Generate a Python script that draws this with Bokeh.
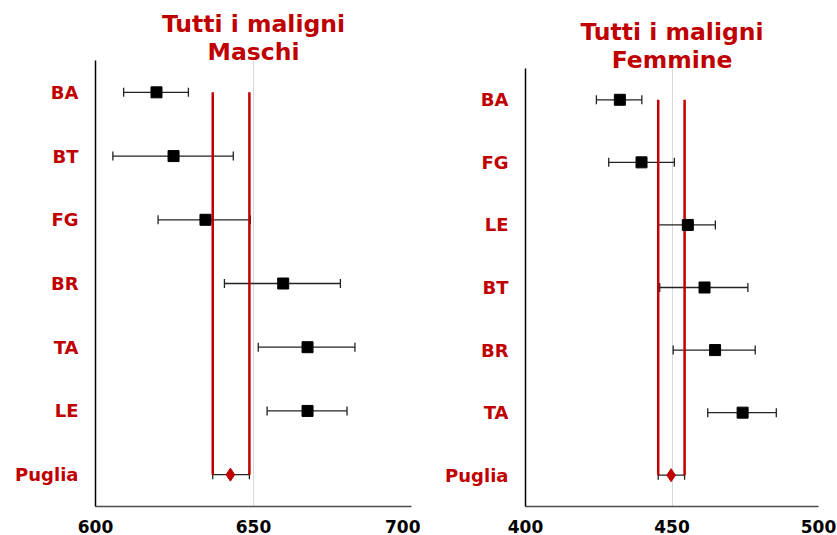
from bokeh.plotting import figure
from bokeh.layouts import row, column, Spacer
from bokeh.models import (ColumnDataSource, FactorRange, Range1d, FixedTicker,
                          Whisker, TeeHead, Title)
from bokeh.embed import file_html
from bokeh.resources import INLINE

# Tutti i maligni - Maschi
m_areas = ["BA", "BT", "FG", "BR", "TA", "LE", "Puglia"]
m_rate = [619.3, 624.7, 634.8, 659.4, 667.1, 667.1, 642.7]
m_low = [608.9, 605.5, 619.8, 640.8, 651.5, 654.3, 637.1]
m_high = [629.4, 643.6, 649.0, 677.5, 682.1, 679.6, 648.7]
m_ticks = [600, 650, 700]

# Tutti i maligni - Femmine
f_areas = ["BA", "FG", "LE", "BT", "BR", "TA", "Puglia"]
f_rate = [432.2, 439.6, 455.4, 461.1, 464.7, 474.1, 449.7]
f_low = [424.2, 428.4, 445.3, 445.8, 450.4, 462.2, 445.3]
f_high = [439.7, 450.8, 464.8, 475.9, 478.4, 485.6, 454.3]
f_ticks = [400, 450, 500]

RED = "#C00000"
FONT = "DejaVu Sans"


def panel(areas, rate, low, high, ticks, title2, width, height, left_border,
          right_border):
    region = areas[-1]
    factors = list(reversed(areas))
    p = figure(width=width, height=height, y_range=FactorRange(*factors),
               x_range=Range1d(ticks[0], ticks[-1]),
               output_backend="svg", toolbar_location=None,
               min_border_left=left_border, min_border_right=right_border,
               min_border_top=60, min_border_bottom=0)
    p.outline_line_color = None
    p.background_fill_color = "white"
    p.border_fill_color = "white"

    # two-line red heading
    p.add_layout(Title(text=title2, align="center", standoff=-10,
                       text_color=RED, text_font=FONT,
                       text_font_style="bold", text_font_size="23.5px"), "above")
    p.add_layout(Title(text="Tutti i maligni", align="center", standoff=5,
                       text_color=RED, text_font=FONT,
                       text_font_style="bold", text_font_size="23.5px"), "above")

    p.xaxis.ticker = FixedTicker(ticks=ticks)
    p.xaxis.major_tick_line_color = None
    p.xaxis.minor_tick_line_color = None
    p.xaxis.axis_line_color = "#4d4d4d"
    p.xaxis.axis_line_width = 1.5
    p.xaxis.major_label_text_font = FONT
    p.xaxis.major_label_text_font_style = "bold"
    p.xaxis.major_label_text_font_size = "17px"
    p.xaxis.major_label_text_color = "black"
    p.xaxis.major_label_standoff = 7

    p.yaxis.major_tick_line_color = None
    p.yaxis.minor_tick_line_color = None
    p.yaxis.axis_line_color = "black"
    p.yaxis.axis_line_width = 1.5
    p.yaxis.major_label_text_font = FONT
    p.yaxis.major_label_text_font_style = "bold"
    p.yaxis.major_label_text_font_size = "18px"
    p.yaxis.major_label_text_color = RED
    p.yaxis.major_label_standoff = 11

    p.ygrid.grid_line_color = None
    p.xgrid.grid_line_color = "#d9d9d9"
    p.xgrid.grid_line_width = 1

    # regional confidence band drawn as two red verticals
    r_lo = low[-1]
    r_hi = high[-1]
    p.segment(x0=[r_lo, r_hi], y0=[areas[0], areas[0]],
              x1=[r_lo, r_hi], y1=[region, region],
              line_color=RED, line_width=2.5)

    src = ColumnDataSource(dict(area=areas, rate=rate, low=low, high=high))
    p.add_layout(Whisker(source=src, base="area", lower="low", upper="high",
                         dimension="width", line_color="#222222", line_width=1.3,
                         lower_head=TeeHead(size=9, line_color="#222222", line_width=1.3),
                         upper_head=TeeHead(size=9, line_color="#222222", line_width=1.3)))

    prov = ColumnDataSource(dict(area=areas[:-1], rate=rate[:-1]))
    p.scatter("rate", "area", source=prov, marker="square", size=11,
              fill_color="black", line_color="black")
    reg = ColumnDataSource(dict(area=[region], rate=[rate[-1]]))
    p.scatter("rate", "area", source=reg, marker="diamond", size=13,
              fill_color=RED, line_color=RED)
    return p


p1 = panel(m_areas, m_rate, m_low, m_high, m_ticks, "Maschi",
           420, 535, 95, 9)
p2 = panel(f_areas, f_rate, f_low, f_high, f_ticks, "Femmine",
           417, 527, 105, 19)

layout = row(p1, column(Spacer(height=8), p2))
open("out.html", "w").write(file_html(layout, INLINE))
